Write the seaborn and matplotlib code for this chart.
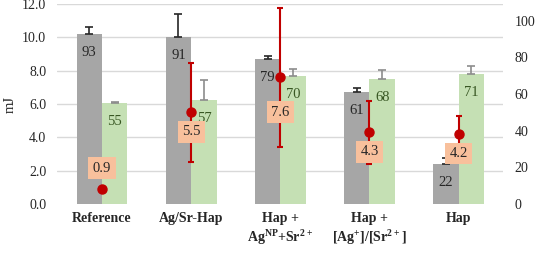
import numpy as np
import pandas as pd
import matplotlib
matplotlib.use("Agg")
import matplotlib.pyplot as plt
import seaborn as sns

sns.set_style("white")
plt.rcParams["font.family"] = ["Liberation Serif", "DejaVu Serif"]
plt.rcParams["mathtext.default"] = "regular"

categories = ["Reference", "Ag/Sr-Hap", "Hap +\nAg$^{NP}$+Sr$^{2+}$",
              "Hap +\n[Ag$^{+}$]/[Sr$^{2+}$]", "Hap"]
residual = [93, 91, 79, 61, 22]
residual_err = [3.3, 12.5, 1.5, 2.2, 3.0]
crystal = [55, 57, 70, 68, 71]
crystal_err = [0.4, 10.4, 3.6, 4.9, 4.2]
energy = [0.9, 5.5, 7.6, 4.3, 4.2]
energy_err = [0.0, 2.95, 4.15, 1.88, 1.1]
series_names = ["Residual number (%)", "Crystallinity (%)", "Inflection Energy (mJ)"]

gray, green, red, orange = "#A6A6A6", "#C5E0B4", "#C00000", "#F8C09C"

df = pd.DataFrame({
    "cat": categories * 2,
    "series": [series_names[0]] * 5 + [series_names[1]] * 5,
    "val": residual + crystal,
})

fig = plt.figure(figsize=(5.47, 2.63), dpi=100)
ax = fig.add_axes([0.105, 0.2243, 0.815, 0.7605])
ax2 = ax.twinx()
pmax = 109.1

# gridlines on the bar axis, placed at the mJ ticks
ax.set_ylim(0, pmax)
ax.set_yticks(np.arange(0, 13, 2) * pmax / 12, minor=True)
ax.yaxis.grid(True, which="minor", color="#D9D9D9", lw=1)
ax.set_axisbelow(True)

sns.barplot(data=df, x="cat", y="val", hue="series", palette=[gray, green],
            width=0.57, gap=0, ax=ax, legend=False, errorbar=None, saturation=1,
            linewidth=0)

errs = [residual_err, crystal_err]
ecols = ["#262626", "#8C8C8C"]
tcols = ["#262626", "#385723"]
bar_conts = list(ax.containers)
for i, cont in enumerate(bar_conts):
    xs = [p.get_x() + p.get_width() / 2 for p in cont.patches]
    hs = [p.get_height() for p in cont.patches]
    ax.errorbar(xs, hs, yerr=[np.zeros(5), errs[i]], fmt="none", ecolor=ecols[i],
                elinewidth=1.2, capsize=3, capthick=1.2, zorder=1)
    ax.bar_label(cont, padding=-18, fontsize=10.5, color=tcols[i])

ax.yaxis.tick_right()
ax.set_yticks(np.arange(0, 101, 20))
ax.tick_params(axis="y", which="both", length=0, labelsize=10, colors="#262626", pad=8)
ax.tick_params(axis="x", length=0, labelsize=10, pad=6)
for lab in ax.get_xticklabels():
    lab.set_fontweight("bold")
ax.set_xlabel("")
ax.set_ylabel("")
for s in ax.spines.values():
    s.set_visible(False)
ax.set_xlim(-0.5, 4.5)

ax2.yaxis.tick_left()
ax2.set_ylim(0, 12)
ax2.set_yticks(np.arange(0, 13, 2))
ax2.set_yticklabels([f"{v:.1f}" for v in np.arange(0, 13, 2)])
ax2.tick_params(axis="y", length=0, labelsize=10, colors="#262626", pad=8)
ax2.yaxis.set_label_position("left")
ax2.set_ylabel("mJ", fontsize=10.5, labelpad=4)
for s in ax2.spines.values():
    s.set_visible(False)

xpos = np.arange(len(categories))
ax2.errorbar(xpos, energy, yerr=energy_err, fmt="o", color=red, ms=6.5,
             elinewidth=1.5, capsize=2.5, capthick=1.5)
label_off = [15, -14, -25, -14, -14]
for x, v, off in zip(xpos, energy, label_off):
    ax2.annotate(f"{v}", (x, v), xytext=(0, off), textcoords="offset points",
                 ha="center", va="center", fontsize=10.5, color="#262626",
                 bbox=dict(boxstyle="square,pad=0.3", fc=orange, ec="none"))

# bottom legend (clipped by the figure edge)
handles = [plt.Rectangle((0, 0), 1, 1, fc=gray), plt.Rectangle((0, 0), 1, 1, fc=green),
           plt.Line2D([], [], color=red, marker="o", lw=1.5)]
fig.legend(handles, series_names, loc="upper center", bbox_to_anchor=(0.5, 0.035),
           ncol=3, frameon=False, fontsize=9, handlelength=1.2, columnspacing=2.5)

fig.savefig("out.png", dpi=100)
